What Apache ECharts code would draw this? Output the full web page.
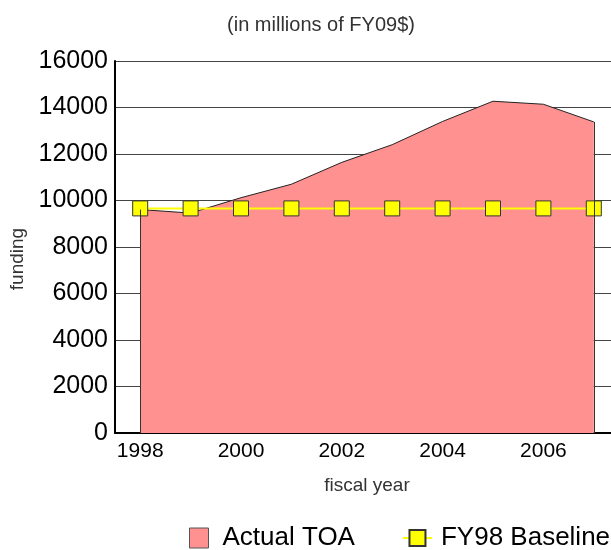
<!DOCTYPE html>
<html>
<head>
<meta charset="utf-8">
<script src="https://cdn.jsdelivr.net/npm/echarts@6/dist/echarts.min.js"></script>
<style>
  html, body { margin: 0; padding: 0; background: #fff; overflow: hidden; }
  /* plot runs a little past the right edge of the window, like the original */
  #chart { width: 619px; height: 550px; }
</style>
</head>
<body>
<div id="chart"></div>
<script>
// fiscal years on the x axis
var years = ['1998', '1999', '2000', '2001', '2002', '2003', '2004', '2005', '2006', '2007'];
// Actual TOA, millions of FY09$
var actualToa = [9610, 9460, 10120, 10700, 11640, 12400, 13400, 14270, 14140, 13380];
// FY98 baseline, flat
var baseline = [9660, 9660, 9660, 9660, 9660, 9660, 9660, 9660, 9660, 9660];

var fontName = 'Liberation Sans, Arial, sans-serif';
var last = years.length - 1;

var chart = echarts.init(document.getElementById('chart'));
chart.setOption({
  animation: false,
  textStyle: { fontFamily: fontName },
  title: {
    text: '(in millions of FY09$)',
    left: 316,
    top: 10,
    textAlign: 'center',
    textStyle: { fontSize: 20, fontWeight: 'normal', color: '#333', fontFamily: fontName }
  },
  grid: { left: 115, right: 0, top: 61, bottom: 117, containLabel: false },
  legend: {
    left: 189,
    top: 525,
    width: 430,
    padding: 0,
    itemGap: 47,
    itemWidth: 29,
    itemHeight: 20,
    textStyle: { fontSize: 26, color: '#000', fontFamily: fontName, padding: [0, 0, 0, 4] },
    data: [
      { name: 'Actual TOA', icon: 'path://M0,0h19v20h-19z', itemStyle: { color: '#ff9191', borderColor: '#555', borderWidth: 1 } },
      { name: 'FY98 Baseline' }
    ]
  },
  xAxis: {
    type: 'category',
    data: years,
    boundaryGap: true,
    name: 'fiscal year',
    nameLocation: 'middle',
    nameGap: 43,
    nameTextStyle: { fontSize: 19, color: '#333' },
    axisLine: { lineStyle: { color: '#000', width: 2 } },
    axisTick: { show: false },
    axisLabel: { interval: 1, fontSize: 21, color: '#000', margin: 8 },
    splitLine: { show: false }
  },
  yAxis: {
    type: 'value',
    min: 0,
    max: 16000,
    interval: 2000,
    name: 'funding',
    nameLocation: 'middle',
    nameGap: 78,
    nameTextStyle: { fontSize: 19, color: '#333', padding: [0, 24, 0, 0] },
    axisLine: { show: true, lineStyle: { color: '#000', width: 2 } },
    axisTick: { show: false },
    axisLabel: { fontSize: 25, color: '#000', margin: 7, formatter: function (v) { return String(v); } },
    splitLine: { lineStyle: { color: '#444', width: 1 } }
  },
  series: [
    {
      name: 'Actual TOA',
      type: 'line',
      data: actualToa,
      showSymbol: false,
      symbol: 'none',
      lineStyle: { color: '#222', width: 1 },
      itemStyle: { color: '#ff9191' },
      areaStyle: { color: '#ff9191', opacity: 1 },
      markLine: {
        silent: true,
        symbol: 'none',
        label: { show: false },
        lineStyle: { color: '#333', width: 1, type: 'solid' },
        data: [
          [{ coord: [years[0], 0] }, { coord: [years[0], actualToa[0]] }],
          [{ coord: [years[last], 0] }, { coord: [years[last], actualToa[last]] }]
        ]
      }
    },
    {
      name: 'FY98 Baseline',
      type: 'line',
      data: baseline,
      symbol: 'rect',
      symbolSize: 15,
      lineStyle: { color: '#ffff00', width: 2 },
      itemStyle: { color: '#ffff00', borderColor: '#333', borderWidth: 1 }
    }
  ]
});
</script>
</body>
</html>
